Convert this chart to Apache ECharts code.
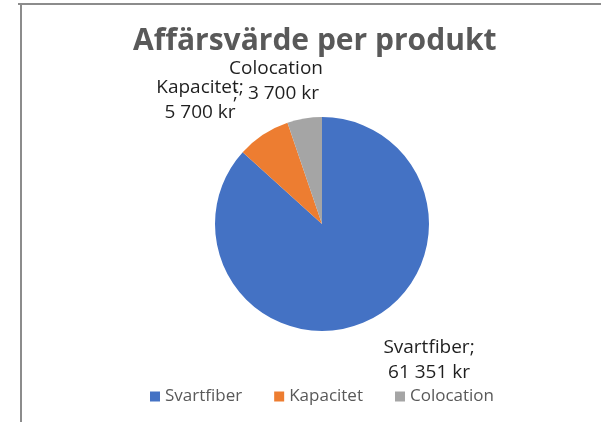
<!DOCTYPE html>
<html><head><meta charset="utf-8">
<script src="https://cdn.jsdelivr.net/npm/echarts@6/dist/echarts.min.js"></script>
<style>html,body{margin:0;padding:0;background:#fff}#c{width:601px;height:422px}</style>
</head><body><div id="c"></div>
<script>
const categories = ['Svartfiber', 'Kapacitet', 'Colocation'];
const values = [61351, 5700, 3700];
const colors = ['#4472C4', '#ED7D31', '#A5A5A5'];
const semicolonOnSecondLine = [false, false, true];
const titleText = 'Affärsvärde per produkt';

function fmt(v){ return String(v).replace(/\B(?=(\d{3})+(?!\d))/g, ' ') + ' kr'; }
const labelPos = [[429, 360], [200, 100], [276, 81]];

const chart = echarts.init(document.getElementById('c'));
chart.setOption({
  animation: false,
  title: { text: titleText, left: 128, top: 21,
    textStyle: { fontFamily: 'Open Sans', fontSize: 30, fontWeight: 'bold', color: '#595959' } },
  legend: { bottom: 12, left: 145, icon: 'rect', itemWidth: 10, itemHeight: 10, itemGap: 32,
    textStyle: { fontFamily: 'Open Sans', fontSize: 17, color: '#595959' }, data: categories },
  graphic: [
    { type: 'line', shape: { x1: 18, y1: 4, x2: 601, y2: 4 }, style: { stroke: '#8c8c8c', lineWidth: 2 } },
    { type: 'line', shape: { x1: 21, y1: 3, x2: 21, y2: 422 }, style: { stroke: '#8c8c8c', lineWidth: 2 } }
  ],
  series: [{
    type: 'pie', center: [322, 224], radius: 107, startAngle: 90, clockwise: true,
    data: categories.map((n, i) => ({ name: n, value: values[i], itemStyle: { color: colors[i] },
      label: { formatter: semicolonOnSecondLine[i] ? n + '\n;  ' + fmt(values[i]) : n + ';\n' + fmt(values[i]) } })),
    label: { show: true, position: 'outside', fontFamily: 'Open Sans', fontSize: 19, lineHeight: 25, color: '#1f1f1f', align: 'center' },
    labelLine: { show: false },
    labelLayout: function (p) { const q = labelPos[p.dataIndex]; return { x: q[0], y: q[1], align: 'center', verticalAlign: 'middle' }; },
    itemStyle: { borderWidth: 0 }
  }]
});
</script></body></html>
